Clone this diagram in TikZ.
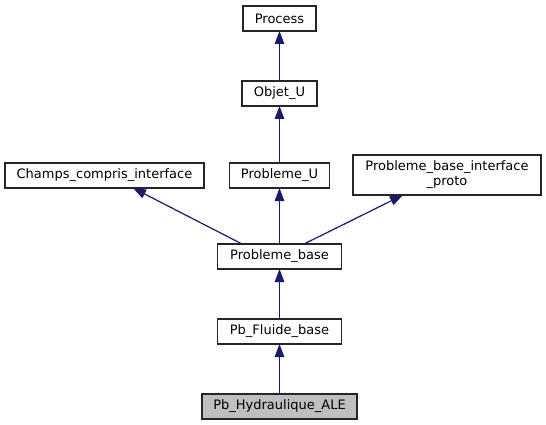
\documentclass[tikz,border=0pt]{standalone}
\usepackage{fontspec}
\setmainfont{DejaVu Sans}
\usetikzlibrary{arrows.meta,calc}
\definecolor{edgeblue}{RGB}{25,25,112}
\definecolor{hlgray}{RGB}{191,191,191}
\tikzset{
  cls/.style={draw=black!85, line width=1.1pt, fill=white, inner sep=0pt, outer sep=0pt,
    minimum height=25pt, font=\fontsize{13pt}{15pt}\selectfont, text=black},
  inh/.style={draw=edgeblue, line width=1.2pt,
    -{Triangle[length=13pt,width=9.5pt,fill=edgeblue,color=edgeblue]}}
}
\begin{document}
\begin{tikzpicture}[x=1pt,y=-1pt]
\useasboundingbox[fill=white] (0,0) rectangle (546,425);
\node[cls, minimum width=73pt] (process) at (279.5,18.5) {Process};
\node[cls, minimum width=75pt] (objet) at (279.5,93.5) {Objet\_U};
\node[cls, minimum width=199pt] (champs) at (104.5,175.5) {Champs\_compris\_interface};
\node[cls, minimum width=100pt] (probu) at (279.5,175.5) {Probleme\_U};
\node[cls, minimum width=188pt, minimum height=40pt, align=center] (proto) at (447,175) {Probleme\_base\_interface\\\_proto};
\node[cls, minimum width=124pt] (pbase) at (279.5,256.5) {Probleme\_base};
\node[cls, minimum width=124pt] (fluide) at (279.5,331.5) {Pb\_Fluide\_base};
\node[cls, minimum width=155pt, fill=hlgray] (hydra) at (279.5,406.5) {Pb\_Hydraulique\_ALE};

\draw[inh] (objet.north) -- (process.south);
\draw[inh] (probu.north) -- (objet.south);
\draw[inh] (pbase.north) -- (probu.south);
\draw[inh] ([xshift=-37.5pt]pbase.north) -- ([xshift=28.5pt]champs.south);
\draw[inh] ([xshift=24.5pt]pbase.north) -- ([xshift=-44pt]proto.south);
\draw[inh] (fluide.north) -- (pbase.south);
\draw[inh] (hydra.north) -- (fluide.south);
\end{tikzpicture}
\end{document}
